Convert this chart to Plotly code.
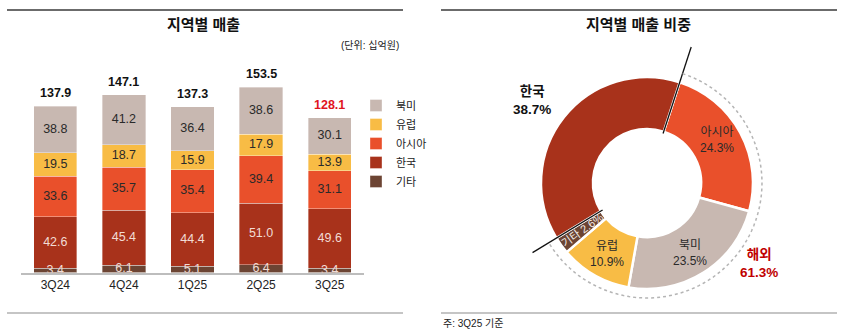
import math
import plotly.graph_objects as go

# ---------------- data ----------------
quarters = ["3Q24", "4Q24", "1Q25", "2Q25", "3Q25"]
north_america = [38.8, 41.2, 36.4, 38.6, 30.1]
europe = [19.5, 18.7, 15.9, 17.9, 13.9]
asia = [33.6, 35.7, 35.4, 39.4, 31.1]
korea = [42.6, 45.4, 44.4, 51.0, 49.6]
other = [3.4, 6.1, 5.1, 6.4, 3.4]
totals = [137.9, 147.1, 137.3, 153.5, 128.1]

share_labels = ["아시아", "북미", "유럽", "기타", "한국"]
share_values = [24.3, 23.5, 10.9, 2.6, 38.7]
overseas_label = "해외"

# ---------------- style ----------------
W, H = 842, 335
FONT = "Liberation Sans, Arial, Noto Sans CJK KR, sans-serif"
C_NA = "#C8B8B1"
C_EU = "#F8BC45"
C_AS = "#E9502B"
C_KR = "#A8321B"
C_OT = "#6C4433"
DARK_TXT = "#2a2a2a"
LIGHT_TXT = "#F2DCD5"


def X(px):
    return px / W


def Y(py):
    return 1 - py / H


fig = go.Figure()

series = [
    ("기타", other, C_OT, LIGHT_TXT),
    ("한국", korea, C_KR, LIGHT_TXT),
    ("아시아", asia, C_AS, DARK_TXT),
    ("유럽", europe, C_EU, DARK_TXT),
    ("북미", north_america, C_NA, DARK_TXT),
]

for name, vals, col, _ in series:
    fig.add_trace(go.Bar(
        x=quarters, y=vals, name=name, marker_color=col,
        marker_line=dict(width=0.8, color="rgba(255,255,255,0.45)"),
        width=0.63, hoverinfo="skip",
    ))

# segment labels
cum = [0.0] * len(quarters)
for name, vals, col, tcol in series:
    mids = [c + v / 2 for c, v in zip(cum, vals)]
    fig.add_trace(go.Scatter(
        x=quarters, y=mids, mode="text",
        text=[f"{v:.1f}" for v in vals],
        textfont=dict(family=FONT, size=12.5, color=tcol),
        textposition="middle center", showlegend=False, hoverinfo="skip",
    ))
    cum = [c + v for c, v in zip(cum, vals)]

annotations = []
for i, (q, t) in enumerate(zip(quarters, totals)):
    annotations.append(dict(
        x=q, y=t, xref="x", yref="y", text=f"<b>{t:.1f}</b>",
        showarrow=False, yanchor="bottom", xanchor="center", yshift=4,
        font=dict(family=FONT, size=12.5, color="#E0141E" if i == len(quarters) - 1 else "#111"),
    ))

# ---------------- donut ----------------
cx, cy, R = 647, 183, 106
rotation = 18
fig.add_trace(go.Pie(
    labels=share_labels, values=share_values, sort=False, direction="clockwise",
    rotation=rotation, hole=0.51, textinfo="none", hoverinfo="skip",
    marker=dict(colors=[C_AS, C_NA, C_EU, C_OT, C_KR], line=dict(color="white", width=2.5)),
    domain=dict(x=[X(cx - R), X(cx + R)], y=[Y(cy + R), Y(cy - R)]),
    showlegend=False,
))

# slice angles (clockwise from 12 o'clock)
tot = sum(share_values)
starts, ends = [], []
a = rotation
for v in share_values:
    starts.append(a)
    a += v / tot * 360
    ends.append(a)


def pol(ang, r):
    rad = math.radians(ang)
    return cx + r * math.sin(rad), cy - r * math.cos(rad)


def note(px, py, text, size, color, **kw):
    d = dict(x=X(px), y=Y(py), xref="paper", yref="paper", text=text, showarrow=False,
             xanchor="center", yanchor="middle", align="center",
             font=dict(family=FONT, size=size, color=color))
    d.update(kw)
    return d


for lab, v, s, e in zip(share_labels, share_values, starts, ends):
    mid = (s + e) / 2
    if lab == "한국":
        px, py = pol(mid, 140)
        annotations.append(note(px - 5, py + 4, f"<b>{lab}<br>{v:.1f}%</b>", 13.5, "#111"))
    elif lab == "기타":
        px, py = pol(mid, 80)
        annotations.append(note(px, py, f"{lab} {v:.1f}%", 11, "#F5EDE9",
                                textangle=mid - 270))
    else:
        px, py = pol(mid, 80)
        if lab == "아시아":
            py -= 5
        else:
            py += 2
        annotations.append(note(px, py, f"{lab}<br>{v:.1f}%", 12, DARK_TXT))

overseas = sum(v for l, v in zip(share_labels, share_values) if l != "한국")
ox, oy = pol(125, 140)
annotations.append(note(ox - 3, oy, f"<b>{overseas_label}<br>{overseas:.1f}%</b>", 13.5, "#C00000"))

shapes = []
# black separator lines
for ang, r0, r1 in [(ends[-1] - 360, 52, 143), (ends[3], 52, 134)]:
    x0, y0 = pol(ang, r0)
    x1, y1 = pol(ang, r1)
    shapes.append(dict(type="line", xref="paper", yref="paper",
                       x0=X(x0), y0=Y(y0), x1=X(x1), y1=Y(y1),
                       line=dict(color="#111", width=1.3), layer="above"))
# dotted arc around overseas share
pts = []
n = 80
for k in range(n + 1):
    ang = starts[0] + (ends[3] - starts[0]) * k / n
    px, py = pol(ang, 115)
    pts.append(f"{X(px):.5f},{Y(py):.5f}")
shapes.append(dict(type="path", xref="paper", yref="paper",
                   path="M " + " L ".join(pts),
                   line=dict(color="#B5B5B5", width=1.5, dash="dot")))

# frame lines
for x0, x1 in [(7, 403), (441, 837)]:
    shapes.append(dict(type="line", xref="paper", yref="paper", x0=X(x0), x1=X(x1),
                       y0=Y(10), y1=Y(10), line=dict(color="#3a3a3a", width=1.5)))
    shapes.append(dict(type="line", xref="paper", yref="paper", x0=X(x0), x1=X(x1),
                       y0=Y(313), y1=Y(313), line=dict(color="#8c8c8c", width=1.2)))

# titles & notes
annotations += [
    note(203, 25, "<b>지역별 매출</b>", 15, "#111"),
    note(638, 25, "<b>지역별 매출 비중</b>", 15, "#111"),
    note(401, 45, "(단위: 십억원)", 10, "#222", xanchor="right"),
    note(441, 323, "주: 3Q25 기준", 10, "#222", xanchor="left"),
]

fig.update_layout(
    width=W, height=H, margin=dict(l=0, r=0, t=0, b=0),
    paper_bgcolor="white", plot_bgcolor="white",
    barmode="stack", bargap=0.37,
    font=dict(family=FONT, color="#222"),
    xaxis=dict(domain=[X(21), X(364)], showline=True, linecolor="#BDBDBD", linewidth=2,
               ticks="", showgrid=False, zeroline=False,
               tickfont=dict(family=FONT, size=12, color="#222")),
    yaxis=dict(domain=[Y(272.5), Y(60)], range=[0, 176], visible=False, showgrid=False),
    legend=dict(x=X(356), y=Y(91), xanchor="left", yanchor="top", traceorder="reversed",
                font=dict(family=FONT, size=11, color="#222"), bgcolor="rgba(0,0,0,0)",
                itemwidth=30, tracegroupgap=0),
    annotations=annotations, shapes=shapes,
)

fig.write_html("out.html")
